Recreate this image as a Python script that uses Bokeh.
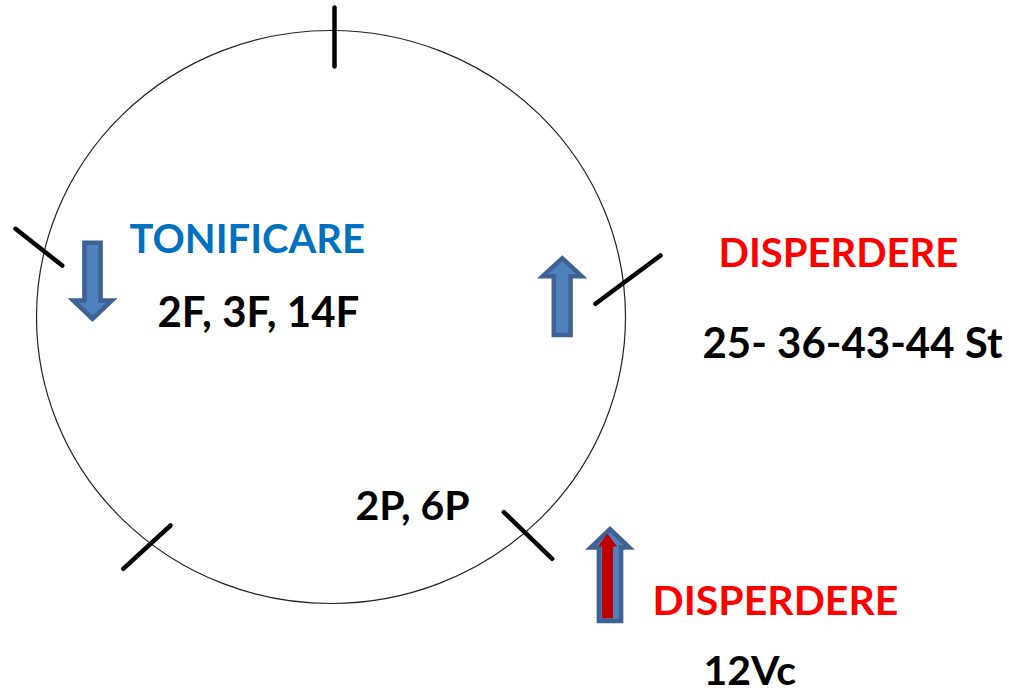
from bokeh.plotting import figure
from bokeh.models import Range1d, ColumnDataSource
from bokeh.core.properties import value
from bokeh.embed import file_html
from bokeh.resources import INLINE

# ---- data (diagram geometry, page pixel units) ----
circle_cx, circle_cy = 330.5, 316.5
circle_w, circle_h = 589, 573

tick_x0 = [334, 15, 122.7, 503.3, 595]
tick_y0 = [7, 228.3, 568.3, 511.7, 303.3]
tick_x1 = [334, 61.7, 170, 551.7, 660]
tick_y1 = [66, 265, 525, 558.3, 255]

# arrows: centre x, tail y, tip y, shaft half width, head half width, head length
arrow_cx = [92, 561.7, 609.5]
arrow_tail = [240, 336.7, 622.7]
arrow_tip = [322, 254.3, 525]
arrow_shaft = [10.3, 10.6, 13.3]
arrow_head = [21.5, 21.7, 21.5]
arrow_headlen = [22, 21.4, 22]
arrow_fill = ["#4F81BD", "#4F81BD", "#C00000"]

labels = ["TONIFICARE", "2F, 3F, 14F", "DISPERDERE", "25- 36-43-44 St",
          "2P, 6P", "DISPERDERE", "12Vc"]
label_x = [129, 157, 718, 702, 355, 652, 703]
label_y = [252, 325, 266, 356, 519, 614, 684]
label_color = ["#0070C0", "#000000", "#FF0000", "#000000",
               "#000000", "#FF0000", "#000000"]
label_size = ["40px", "42px", "40px", "42px", "41px", "41px", "41px"]


def arrow_poly(cx, tail, tip, shw, hhw, hl, inset):
    d = 1 if tip > tail else -1
    base = tip - d * hl
    s = shw - inset
    h = hhw - inset
    t0 = tail + d * inset
    t1 = tip - d * inset * 1.6
    xs = [cx - s, cx + s, cx + s, cx + h, cx, cx - h, cx - s]
    ys = [t0, t0, base, base, t1, base, base]
    return xs, ys


W, H = 1009, 696
p = figure(width=W, height=H, output_backend="svg", toolbar_location=None,
           x_range=Range1d(0, W), y_range=Range1d(H, 0),
           x_axis_location=None, y_axis_location=None, min_border=0)
p.grid.visible = False
p.outline_line_color = None
p.background_fill_color = "white"

p.ellipse(x=[circle_cx], y=[circle_cy], width=[circle_w], height=[circle_h],
          fill_alpha=0, line_color="#222222", line_width=1.2)

p.segment(x0=tick_x0, y0=tick_y0, x1=tick_x1, y1=tick_y1,
          line_color="black", line_width=4.5, line_cap="round")

# blue outlined arrows
xs_o, ys_o = [], []
for i in range(len(arrow_cx)):
    xs, ys = arrow_poly(arrow_cx[i], arrow_tail[i], arrow_tip[i], arrow_shaft[i],
                        arrow_head[i], arrow_headlen[i], 2.2)
    xs_o.append(xs)
    ys_o.append(ys)
p.patches(xs=xs_o, ys=ys_o, fill_color=["#4F81BD", "#4F81BD", "#4F81BD"],
          line_color="#3D6293", line_width=4.5, line_join="miter")

# red inner arrow for the bottom one
rxs, _ = arrow_poly(arrow_cx[2] - 2.5, arrow_tail[2], arrow_tip[2], 5.5,
                    9.5, arrow_headlen[2], 0)
rys = [arrow_tail[2] - 5, arrow_tail[2] - 5, arrow_tip[2] + 21, arrow_tip[2] + 21,
       arrow_tip[2] + 8, arrow_tip[2] + 21, arrow_tip[2] + 21]
p.patch(x=rxs, y=rys, fill_color=arrow_fill[2], line_color=None)

src = ColumnDataSource(dict(x=label_x, y=label_y, t=labels, c=label_color,
                            s=label_size))
p.text(x="x", y="y", text="t", text_color="c", text_font_size="s",
       text_font=value("Lato"), text_font_style="bold",
       text_baseline="alphabetic", text_align="left", y_offset=-15,
       source=src)

open("out.html", "w").write(file_html(p, INLINE))
